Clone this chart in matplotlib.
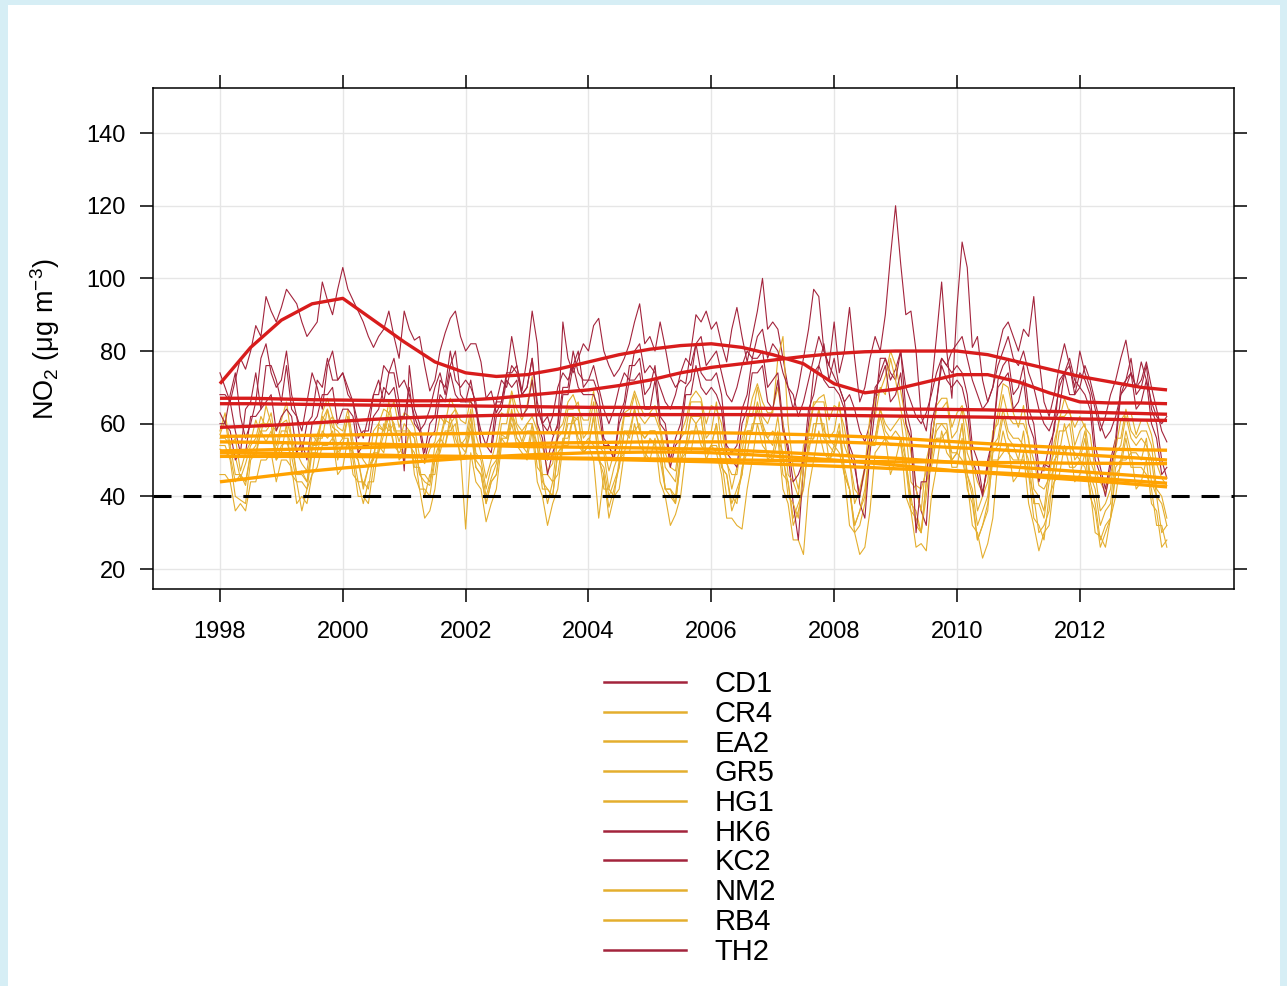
import matplotlib
matplotlib.use("Agg")
import matplotlib.pyplot as plt
from matplotlib.patches import Rectangle
import numpy as np

plt.rcParams["font.family"] = ["Liberation Sans", "DejaVu Sans"]
plt.rcParams["mathtext.fontset"] = "custom"
plt.rcParams["mathtext.rm"] = "Liberation Sans"
plt.rcParams["mathtext.it"] = "Liberation Sans:italic"

sites = ["CD1", "CR4", "EA2", "GR5", "HG1", "HK6", "KC2", "NM2", "RB4", "TH2"]
red_sites = ["CD1", "HK6", "KC2", "TH2"]

# monthly mean NO2, Jan 1998 - Jun 2013 (one row per year)
cd1 = [74, 70, 66, 72, 78, 75, 80, 87, 84, 95, 91, 88,
       92, 97, 95, 93, 88, 84, 86, 88, 99, 94, 90, 97,
       103, 97, 94, 91, 88, 84, 81, 84, 86, 91, 84, 78,
       91, 86, 83, 84, 76, 69, 72, 80, 85, 89, 91, 84,
       80, 82, 82, 77, 67, 69, 63, 66, 73, 84, 76, 69,
       78, 91, 82, 60, 62, 57, 59, 88, 78, 74, 78, 82,
       80, 87, 89, 80, 76, 73, 75, 78, 82, 88, 93, 82,
       84, 80, 88, 81, 73, 70, 72, 71, 80, 90, 88, 91,
       86, 88, 82, 77, 86, 92, 84, 77, 84, 91, 100, 86,
       88, 86, 78, 70, 68, 62, 66, 72, 78, 84, 80, 76,
       73, 70, 66, 68, 64, 58, 55, 60, 68, 74, 78, 72,
       75, 80, 70, 66, 62, 60, 63, 68, 74, 78, 76, 80,
       82, 84, 78, 72, 68, 64, 66, 70, 76, 80, 84, 78,
       76, 80, 74, 70, 64, 60, 58, 62, 70, 74, 78, 72,
       70, 76, 72, 66, 60, 56, 58, 62, 68, 72, 74, 70,
       72, 77, 70, 64, 58, 55]
kc2 = [63, 60, 68, 74, 62, 56, 60, 66, 78, 82, 74, 70,
       72, 80, 68, 62, 58, 66, 74, 70, 64, 76, 80, 72,
       74, 70, 66, 60, 56, 62, 68, 72, 66, 74, 78, 70,
       72, 68, 62, 58, 60, 64, 70, 74, 68, 76, 80, 68,
       66, 72, 64, 58, 54, 60, 66, 72, 70, 76, 74, 68,
       70, 78, 66, 60, 58, 62, 70, 74, 72, 76, 80, 70,
       72, 76, 70, 64, 60, 64, 70, 74, 72, 80, 82, 74,
       76, 74, 70, 66, 64, 68, 74, 78, 76, 82, 84, 76,
       78, 80, 74, 68, 66, 70, 76, 80, 78, 84, 86, 78,
       82, 80, 74, 70, 64, 70, 78, 86, 97, 95, 80, 76,
       88, 74, 80, 92, 78, 66, 70, 78, 84, 80, 90, 106,
       120, 104, 90, 91, 80, 62, 58, 70, 84, 99, 80, 67,
       92, 110, 103, 81, 84, 72, 66, 70, 80, 86, 88, 84,
       80, 86, 84, 95, 78, 66, 62, 68, 76, 82, 76, 70,
       80, 74, 70, 64, 58, 62, 68, 72, 78, 83, 74, 70,
       77, 72, 66, 62, 60, 62]
hk6 = [68, 68, 66, 58, 52, 64, 66, 74, 64, 76, 76, 72,
       66, 76, 64, 62, 52, 60, 62, 72, 70, 78, 72, 72,
       74, 68, 66, 56, 58, 58, 68, 68, 76, 74, 74, 66,
       47, 76, 64, 60, 52, 60, 62, 72, 70, 80, 72, 70,
       72, 70, 66, 54, 54, 54, 66, 66, 74, 74, 76, 68,
       70, 78, 64, 60, 50, 56, 60, 70, 70, 80, 74, 72,
       72, 72, 68, 56, 54, 50, 62, 66, 76, 76, 78, 68,
       70, 76, 62, 60, 50, 56, 60, 70, 72, 82, 74, 72,
       72, 74, 68, 54, 52, 54, 64, 68, 78, 78, 80, 70,
       72, 74, 60, 52, 38, 28, 48, 60, 74, 76, 82, 72,
       78, 70, 66, 54, 50, 38, 34, 52, 64, 78, 78, 74,
       72, 80, 64, 58, 42, 36, 32, 54, 66, 78, 76, 74,
       76, 74, 68, 54, 50, 41, 48, 56, 72, 76, 78, 68,
       70, 76, 64, 60, 48, 47, 54, 58, 72, 74, 76, 68,
       74, 72, 68, 54, 48, 42, 50, 56, 70, 72, 78, 68,
       70, 76, 64, 60, 50, 45]
th2 = [60, 60, 58, 50, 52, 52, 62, 62, 64, 66, 68, 58,
       62, 64, 62, 52, 55, 50, 60, 62, 68, 68, 70, 60,
       64, 64, 62, 52, 54, 54, 62, 64, 70, 68, 70, 62,
       62, 70, 60, 58, 50, 56, 58, 68, 66, 74, 68, 66,
       66, 66, 64, 54, 54, 52, 62, 64, 72, 70, 72, 62,
       64, 72, 60, 56, 46, 52, 56, 68, 68, 76, 70, 68,
       68, 68, 64, 54, 54, 50, 60, 64, 72, 72, 74, 64,
       64, 72, 60, 58, 48, 54, 56, 68, 68, 76, 70, 68,
       70, 68, 64, 52, 50, 48, 60, 64, 74, 74, 76, 66,
       64, 72, 58, 54, 44, 46, 50, 64, 68, 76, 72, 70,
       70, 68, 64, 52, 48, 40, 48, 56, 70, 72, 76, 66,
       68, 74, 60, 56, 30, 44, 44, 60, 66, 76, 72, 70,
       72, 70, 64, 50, 46, 40, 50, 56, 70, 72, 74, 64,
       66, 72, 60, 56, 44, 49, 48, 60, 64, 74, 68, 68,
       70, 68, 64, 50, 46, 40, 48, 54, 68, 70, 74, 64,
       66, 72, 60, 56, 46, 48]
cr4 = [58, 63, 54, 56, 47, 52, 55, 61, 57, 65, 60, 58,
       61, 66, 56, 52, 49, 47, 57, 55, 63, 67, 62, 59,
       58, 64, 55, 53, 50, 48, 58, 60, 64, 63, 66, 59,
       63, 62, 59, 51, 49, 53, 55, 62, 60, 67, 64, 61,
       60, 67, 57, 52, 45, 50, 55, 63, 62, 69, 64, 61,
       65, 73, 59, 54, 47, 49, 58, 60, 66, 68, 64, 61,
       61, 69, 60, 54, 47, 52, 55, 63, 64, 69, 65, 62,
       63, 65, 59, 52, 48, 47, 57, 61, 67, 69, 67, 60,
       65, 64, 60, 49, 46, 46, 56, 60, 67, 71, 66, 63,
       63, 78, 84, 60, 48, 42, 50, 57, 65, 67, 68, 61,
       65, 64, 59, 50, 42, 40, 47, 57, 67, 69, 73, 80,
       76, 69, 61, 52, 43, 42, 47, 55, 65, 67, 67, 59,
       63, 65, 59, 49, 44, 41, 48, 55, 63, 71, 70, 63,
       59, 65, 55, 50, 43, 42, 45, 55, 61, 67, 63, 59,
       62, 59, 57, 47, 44, 41, 46, 53, 61, 63, 63, 57,
       61, 61, 57, 49, 45, 43]
ea2 = [57, 61, 52, 51, 45, 49, 54, 56, 62, 59, 63, 54,
       60, 61, 56, 46, 47, 44, 53, 57, 61, 64, 59, 58,
       56, 62, 52, 50, 43, 48, 51, 59, 58, 63, 60, 55,
       60, 58, 56, 46, 44, 43, 51, 55, 61, 60, 62, 55,
       54, 62, 50, 48, 40, 45, 49, 57, 56, 63, 59, 55,
       60, 60, 54, 44, 42, 40, 52, 54, 62, 62, 61, 52,
       54, 62, 50, 46, 37, 42, 48, 58, 58, 64, 58, 56,
       58, 58, 54, 42, 40, 38, 50, 54, 62, 60, 62, 52,
       54, 60, 48, 46, 36, 40, 46, 58, 58, 66, 60, 56,
       54, 62, 50, 44, 32, 36, 42, 56, 56, 64, 58, 56,
       54, 60, 48, 42, 30, 32, 38, 54, 56, 64, 60, 58,
       60, 62, 50, 40, 32, 30, 40, 52, 58, 60, 58, 52,
       52, 60, 46, 40, 28, 32, 36, 52, 54, 62, 56, 54,
       50, 58, 46, 40, 30, 32, 36, 50, 52, 60, 54, 52,
       50, 56, 44, 38, 28, 32, 34, 48, 50, 58, 52, 52,
       50, 56, 44, 40, 30, 32]
gr5 = [54, 54, 50, 40, 39, 38, 50, 52, 58, 58, 60, 50,
       52, 60, 46, 44, 36, 42, 46, 56, 56, 64, 56, 54,
       56, 56, 50, 40, 40, 38, 48, 52, 60, 58, 60, 50,
       52, 58, 46, 42, 34, 36, 42, 54, 54, 62, 56, 52,
       31, 52, 44, 42, 33, 38, 42, 54, 54, 60, 54, 52,
       50, 58, 44, 40, 32, 38, 42, 54, 54, 62, 54, 52,
       54, 50, 34, 46, 34, 40, 42, 52, 52, 60, 54, 52,
       50, 56, 44, 40, 32, 35, 40, 52, 52, 60, 54, 52,
       54, 52, 46, 34, 34, 32, 31, 42, 50, 60, 54, 52,
       50, 56, 42, 38, 28, 28, 24, 42, 50, 58, 52, 50,
       54, 52, 46, 32, 30, 24, 26, 36, 52, 54, 56, 46,
       50, 56, 40, 36, 26, 27, 25, 40, 48, 58, 52, 50,
       52, 50, 44, 32, 30, 23, 27, 34, 50, 52, 54, 44,
       46, 52, 38, 32, 25, 30, 32, 44, 46, 54, 48, 48,
       50, 48, 42, 30, 29, 26, 34, 40, 50, 50, 52, 42,
       44, 50, 38, 36, 26, 28]
hg1 = [53, 52, 51, 44, 46, 43, 52, 51, 58, 55, 58, 50,
       54, 55, 51, 44, 44, 42, 52, 52, 58, 56, 58, 50,
       55, 54, 52, 44, 44, 42, 52, 52, 57, 62, 54, 54,
       50, 58, 48, 48, 40, 46, 46, 56, 54, 60, 54, 54,
       52, 58, 48, 46, 38, 44, 46, 56, 54, 62, 56, 54,
       52, 60, 48, 46, 38, 44, 46, 56, 56, 62, 56, 54,
       56, 54, 52, 42, 42, 40, 50, 52, 58, 58, 60, 50,
       56, 54, 50, 42, 42, 38, 50, 52, 58, 58, 58, 50,
       54, 54, 50, 40, 40, 38, 48, 52, 60, 60, 60, 50,
       52, 58, 46, 44, 34, 38, 42, 54, 56, 64, 56, 54,
       52, 58, 46, 42, 32, 36, 40, 54, 56, 64, 58, 56,
       58, 56, 50, 38, 36, 30, 44, 50, 60, 60, 60, 50,
       52, 60, 46, 42, 32, 36, 40, 54, 56, 64, 58, 56,
       56, 54, 50, 38, 38, 34, 44, 48, 58, 58, 60, 50,
       52, 58, 46, 42, 32, 36, 38, 52, 54, 62, 56, 54,
       56, 54, 50, 40, 38, 32]
nm2 = [46, 46, 44, 36, 38, 36, 44, 44, 50, 50, 52, 44,
       50, 50, 48, 38, 40, 38, 46, 48, 54, 54, 56, 46,
       48, 56, 46, 44, 38, 44, 44, 54, 52, 60, 54, 52,
       54, 54, 52, 42, 42, 40, 50, 52, 58, 58, 60, 50,
       52, 60, 48, 46, 38, 44, 46, 56, 56, 64, 56, 54,
       58, 58, 54, 42, 42, 40, 52, 54, 60, 60, 62, 52,
       54, 62, 50, 48, 40, 44, 48, 58, 56, 64, 58, 56,
       58, 58, 54, 42, 42, 40, 52, 54, 62, 62, 62, 52,
       54, 60, 48, 46, 38, 42, 46, 58, 58, 64, 58, 56,
       58, 56, 52, 40, 38, 34, 48, 52, 60, 60, 60, 50,
       52, 58, 46, 42, 32, 36, 42, 54, 54, 62, 56, 54,
       54, 54, 48, 36, 34, 30, 44, 48, 56, 56, 58, 48,
       48, 56, 42, 38, 28, 32, 38, 50, 50, 58, 52, 50,
       50, 50, 46, 34, 32, 28, 40, 44, 54, 52, 54, 44,
       46, 52, 40, 36, 26, 30, 34, 46, 48, 56, 48, 48,
       48, 46, 42, 32, 32, 26]
rb4 = [56, 56, 54, 46, 46, 44, 52, 54, 60, 60, 60, 52,
       58, 58, 54, 46, 46, 44, 54, 54, 62, 60, 62, 52,
       54, 62, 52, 50, 42, 48, 50, 60, 58, 66, 58, 58,
       58, 58, 56, 46, 46, 44, 54, 56, 62, 62, 64, 54,
       56, 64, 52, 50, 42, 48, 50, 60, 60, 68, 60, 58,
       60, 62, 58, 46, 46, 44, 56, 58, 64, 64, 66, 56,
       58, 66, 54, 52, 42, 48, 52, 62, 62, 68, 62, 60,
       62, 62, 58, 48, 46, 44, 56, 58, 66, 66, 66, 56,
       58, 66, 54, 50, 42, 48, 52, 62, 62, 70, 62, 60,
       64, 70, 60, 46, 44, 40, 54, 58, 66, 66, 66, 56,
       58, 66, 54, 50, 38, 42, 48, 62, 62, 70, 68, 78,
       72, 64, 58, 44, 42, 36, 50, 56, 64, 64, 66, 56,
       58, 64, 52, 48, 36, 40, 44, 58, 60, 68, 62, 60,
       60, 60, 56, 42, 40, 36, 48, 52, 62, 62, 64, 54,
       58, 60, 50, 46, 36, 38, 42, 56, 56, 64, 58, 56,
       58, 58, 54, 42, 40, 34]

raw = {"CD1": cd1, "CR4": cr4, "EA2": ea2, "GR5": gr5, "HG1": hg1,
       "HK6": hk6, "KC2": kc2, "NM2": nm2, "RB4": rb4, "TH2": th2}

# smooth trends, every half year from Jan 1998 (last value mid 2013)
trend = {
    "CD1": [71, 81, 88.5, 93, 94.5, 88.5, 82.5, 77, 74, 73, 73.5, 75, 77, 79, 80.5, 81.5,
            82, 81, 79, 76.5, 71, 68.5, 69.5, 71.5, 73.5, 73.5, 71.5, 68.5, 66, 65.7, 65.7, 65.5],
    "KC2": [67, 67, 66.8, 66.6, 66.5, 66.4, 66.3, 66.3, 66.5, 67, 67.8, 68.6, 69.3, 70.5, 72, 74,
            75.5, 76.5, 77.5, 78.5, 79.3, 79.8, 80, 80, 80, 79, 77, 75, 73, 71.5, 70, 69.3],
    "HK6": [65.5, 65.5, 65.4, 65.3, 65.2, 65.1, 65, 65, 64.9, 64.8, 64.7, 64.6, 64.5, 64.5, 64.4, 64.4,
            64.3, 64.3, 64.2, 64.2, 64.1, 64.1, 64, 64, 63.9, 63.8, 63.6, 63.4, 63.2, 63, 62.8, 62.6],
    "TH2": [59, 59.3, 59.7, 60.2, 60.7, 61.2, 61.6, 61.9, 62.1, 62.3, 62.4, 62.5, 62.5, 62.5, 62.5, 62.5,
            62.5, 62.5, 62.4, 62.4, 62.3, 62.2, 62.1, 62, 61.9, 61.8, 61.6, 61.5, 61.3, 61.2, 61, 60.9],
    "CR4": [56.5, 56.6, 56.7, 56.8, 56.9, 57, 57.1, 57.2, 57.3, 57.4, 57.5, 57.5, 57.5, 57.5, 57.5, 57.5,
            57.5, 57.4, 57.2, 57, 56.7, 56.4, 56, 55.5, 55, 54.5, 54, 53.6, 53.3, 53, 52.8, 52.7],
    "EA2": [55, 54.9, 54.8, 54.6, 54.5, 54.4, 54.2, 54.1, 54, 53.9, 53.7, 53.6, 53.5, 53.4, 53.3, 53.1,
            53, 52.6, 52.2, 51.8, 51.4, 50.9, 50.5, 49.9, 49.3, 48.6, 48, 47.4, 46.8, 46.2, 45.6, 45],
    "GR5": [52, 51.9, 51.8, 51.6, 51.5, 51.4, 51.2, 51.1, 51, 50.8, 50.6, 50.4, 50.3, 50.1, 49.9, 49.7,
            49.5, 49.2, 48.9, 48.6, 48.3, 48, 47.6, 47.3, 47, 46.6, 46.2, 45.7, 45.2, 44.7, 44.1, 43.6],
    "HG1": [51, 51, 51, 51, 51, 50.9, 50.9, 50.8, 50.8, 50.7, 50.7, 50.6, 50.5, 50.4, 50.3, 50.2,
            50.1, 50, 49.9, 49.8, 49.7, 49.6, 49.5, 49.5, 49.4, 49.3, 49.3, 49.2, 49.1, 49.1, 49, 49],
    "NM2": [44, 45, 46, 47, 47.8, 48.5, 49.3, 49.9, 50.5, 51, 51.4, 51.7, 52, 52.1, 52.2, 52.2,
            52, 51.6, 51.1, 50.6, 50, 49.3, 48.6, 47.8, 47, 46.4, 45.8, 45.1, 44.5, 43.9, 43.2, 42.6],
    "RB4": [52.5, 52.7, 52.9, 53.1, 53.3, 53.5, 53.7, 53.9, 54, 54.3, 54.5, 54.7, 54.8, 54.9, 55, 55,
            55, 55, 55, 55, 55, 54.7, 54.3, 53.8, 53.4, 53, 52.5, 52, 51.5, 51, 50.5, 50],
}
trend_t = list(np.arange(1998.0, 2013.01, 0.5)) + [2013.42]

limit_value = 40
year_ticks = [1998, 2000, 2002, 2004, 2006, 2008, 2010, 2012]
no2_ticks = [20, 40, 60, 80, 100, 120, 140]

raw_red, raw_orange = "#a3243c", "#e4ae2e"
fit_red, fit_orange = "#d81c1c", "#ffa200"

fig = plt.figure(figsize=(12.87, 9.86), dpi=100, facecolor="#d6eef5")
fig.add_artist(Rectangle((8 / 1287, 0), 1272 / 1287, 981 / 986,
                         transform=fig.transFigure, facecolor="white",
                         edgecolor="none", zorder=-10))

ax = fig.add_axes([153 / 1287, 1 - 589 / 986, 1081 / 1287, 501 / 986])
ax.set_facecolor("white")

t = 1998 + np.arange(len(cd1)) / 12.0
handles = []
for s in sites:
    col = raw_red if s in red_sites else raw_orange
    h, = ax.plot(t, raw[s], color=col, lw=0.8, label=s, zorder=2)
    handles.append(h)
for s in sites:
    col = fit_red if s in red_sites else fit_orange
    ax.plot(trend_t, trend[s], color=col, lw=2.4, zorder=3,
            solid_capstyle="butt")

ax.axhline(limit_value, color="black", lw=2.2, ls=(0, (5.9, 3.9)), zorder=4)

ax.set_xlim(1996.91, 2014.51)
ax.set_ylim(14.5, 152.4)
ax.set_xticks(year_ticks)
ax.set_xticklabels([str(y) for y in year_ticks])
ax.set_yticks(no2_ticks)
ax.grid(True, color="#e6e6e6", lw=1.0)
ax.set_axisbelow(True)
ax.tick_params(direction="out", length=9.4, width=1.1, top=True, right=True,
               labeltop=False, labelright=False, labelsize=17, colors="black")
ax.tick_params(axis="x", pad=13.6)
ax.tick_params(axis="y", pad=10)
for sp in ax.spines.values():
    sp.set_linewidth(1.1)

fig.text(45 / 1287, 1 - 339 / 986, r"NO$_2$ ($\mathregular{\mu}$g m$^{-3}$)",
         rotation=90, ha="center", va="center", fontsize=19.5)

leg = fig.legend(handles, sites, loc="upper left",
                 bbox_to_anchor=(604 / 1287, 1 - 670 / 986),
                 frameon=False, fontsize=21, handlelength=2.8,
                 handletextpad=1.0, labelspacing=0.06, borderpad=0,
                 borderaxespad=0)
for ln in leg.get_lines():
    ln.set_linewidth(1.8)

fig.savefig("out.png", dpi=100, facecolor=fig.get_facecolor())
